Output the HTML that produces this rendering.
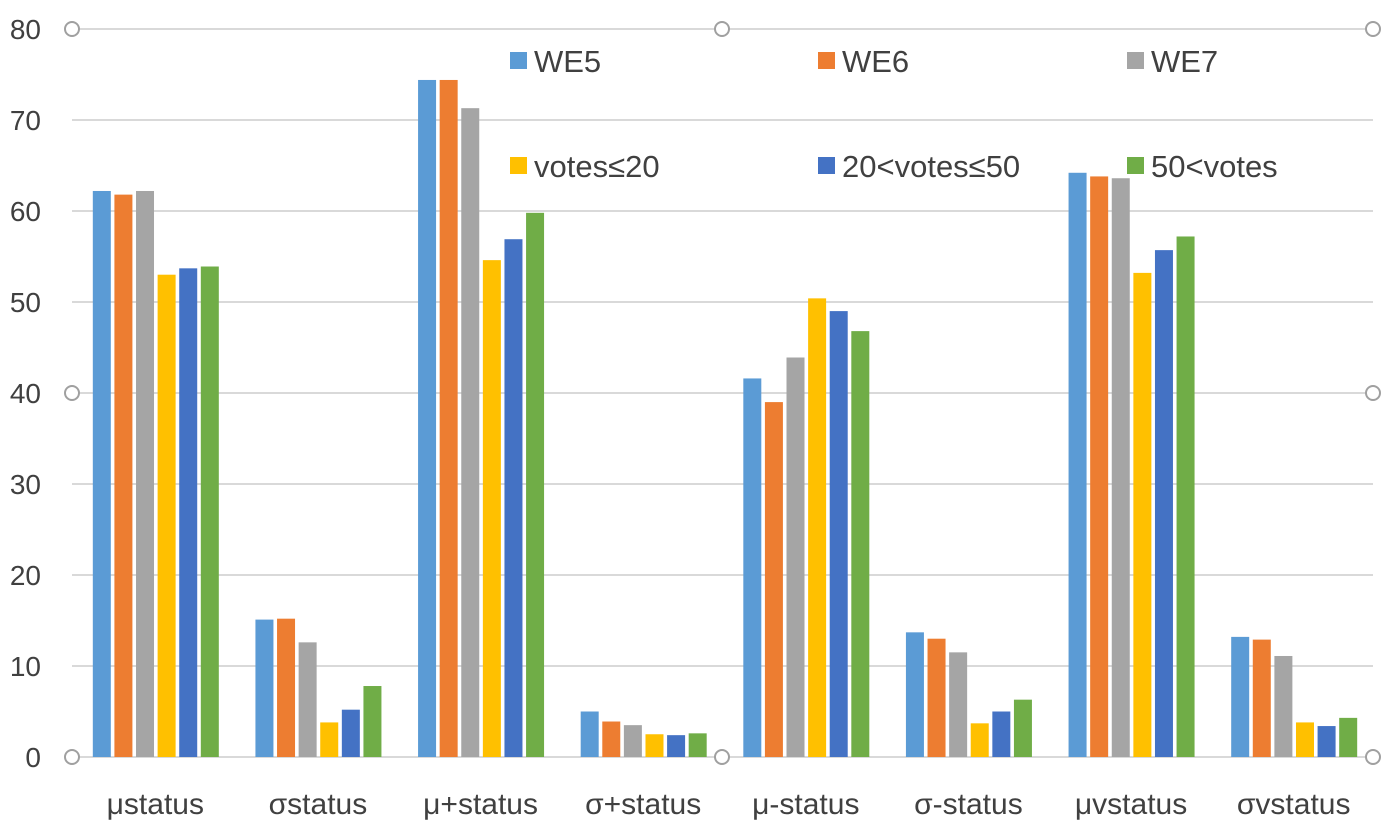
<!DOCTYPE html>
<html><head><meta charset="utf-8"><style>
body{margin:0;background:#fff;}
svg{display:block;font-family:"Liberation Sans","DejaVu Sans",sans-serif;}
</style></head><body>
<svg id="chart" width="1389" height="830" viewBox="0 0 1389 830" xmlns="http://www.w3.org/2000/svg">
<g id="grid"></g>
<g id="bars"></g>
<g id="yticks"></g>
<g id="xlabels"></g>
<g id="legend"></g>
<g id="handles"></g>
</svg>
<script>
const categories=["μstatus","σstatus","μ+status","σ+status","μ-status","σ-status","μvstatus","σvstatus"];
const seriesNames=["WE5","WE6","WE7","votes≤20","20<votes≤50","50<votes"];
const we5=[62.2,15.1,74.4,5.0,41.6,13.7,64.2,13.2];
const we6=[61.8,15.2,74.4,3.9,39.0,13.0,63.8,12.9];
const we7=[62.2,12.6,71.3,3.5,43.9,11.5,63.6,11.1];
const votesLow=[53.0,3.8,54.6,2.5,50.4,3.7,53.2,3.8];
const votesMid=[53.7,5.2,56.9,2.4,49.0,5.0,55.7,3.4];
const votesHigh=[53.9,7.8,59.8,2.6,46.8,6.3,57.2,4.3];
const yTicks=[0,10,20,30,40,50,60,70,80];
const colors=["#5B9BD5","#ED7D31","#A5A5A5","#FFC000","#4472C4","#70AD47"];
const series=[we5,we6,we7,votesLow,votesMid,votesHigh];
const NS="http://www.w3.org/2000/svg";
const L=72,R=1373,T=29,B=757,ymax=80;
const y=v=>B-(v/ymax)*(B-T);
const cw=(R-L)/categories.length;
const x=(ci,si)=>L+cw*ci+cw/2-60.5+si*21.6;
function mk(tag,attrs,parent){const e=document.createElementNS(NS,tag);for(const k in attrs)e.setAttribute(k,attrs[k]);parent.appendChild(e);return e;}
const G=id=>document.getElementById(id);
yTicks.forEach(t=>{
 const l=mk('line',{x1:L,x2:R,y1:y(t),y2:y(t),stroke:'#D9D9D9','stroke-width':2},G('grid'));
 
 
 const tx=mk('text',{x:41,y:y(t)+10,'text-anchor':'end','font-size':28,fill:'#404040'},G('yticks'));
 tx.textContent=t;
 
 
});
series.forEach((s,si)=>s.forEach((v,ci)=>{
 const r=mk('rect',{x:x(ci,si),y:y(v),width:18,height:B-y(v),fill:colors[si]},G('bars'));
 
 
}));
categories.forEach((c,ci)=>{
 const t=mk('text',{x:L+cw*ci+cw/2+2,y:814,'text-anchor':'middle','font-size':30,fill:'#404040'},G('xlabels'));
 t.textContent=c;
 
 
});
const lx=[510,818,1127],ly=[61,166];
seriesNames.forEach((n,i)=>{
 const gx=lx[i%3],gy=ly[Math.floor(i/3)];
 const r=mk('rect',{x:gx,y:gy-9,width:17,height:17,fill:colors[i]},G('legend'));
 
 
 const t=mk('text',{x:gx+24,y:gy+11,'font-size':31,fill:'#404040'},G('legend'));
 t.textContent=n;
 
 
});
[[L,T],[722,T],[R,T],[L,393],[R,393],[L,B],[722,B],[R,B]].forEach((p,i)=>{
 const c=mk('circle',{cx:p[0],cy:p[1],r:7,fill:'#fff',stroke:'#A0A0A0','stroke-width':2},G('handles'));
 
 
});
</script>
</body></html>
